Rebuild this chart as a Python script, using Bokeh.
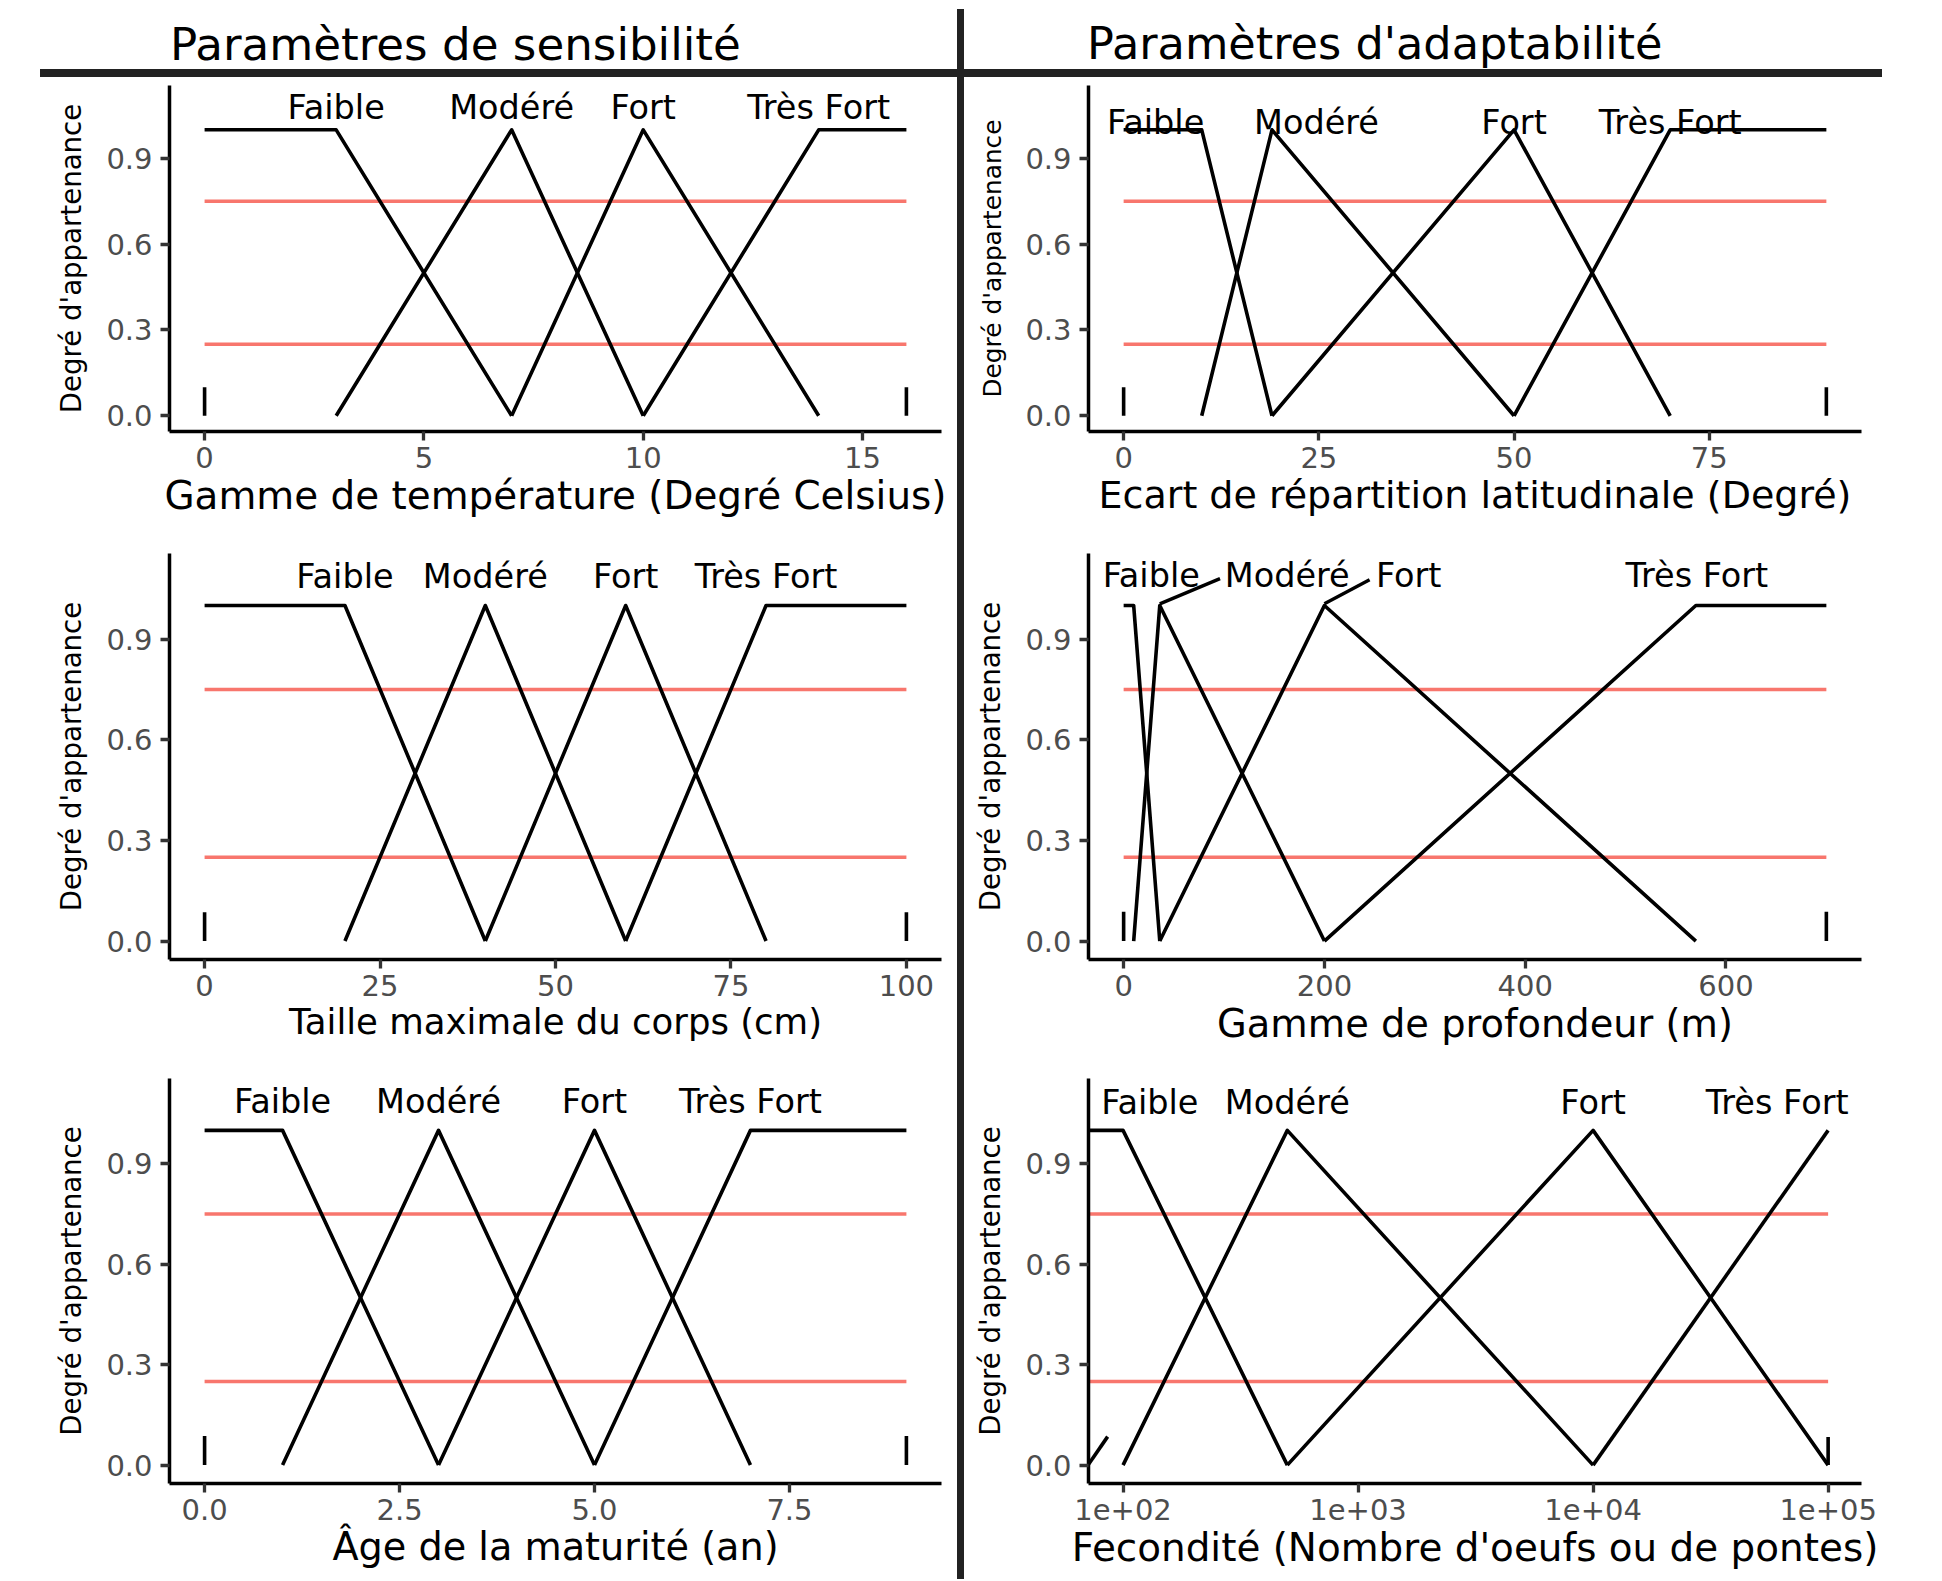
from bokeh.plotting import figure
from bokeh.layouts import row, column
from bokeh.models import (Range1d, FixedTicker, PrintfTickFormatter, BasicTickFormatter,
                          CustomJSTickFormatter, Div)
from bokeh.core.properties import value
from bokeh.embed import file_html
from bokeh.resources import INLINE

FONT = "DejaVu Sans"

# ---------------- data ----------------
CLASSES = ["Faible", "Modéré", "Fort", "Très Fort"]
SHAPE_Y = [[1, 1, 0], [0, 1, 0], [0, 1, 0], [0, 1, 1]]
THRESHOLDS = [0.25, 0.75]
Y_TICKS = [0.0, 0.3, 0.6, 0.9]
Y_LABEL = "Degré d'appartenance"

# Gamme de température
temp_x = [[0, 3, 7], [3, 7, 10], [7, 10, 14], [10, 14, 16]]
temp_bounds = [0, 16]
temp_ticks = [0, 5, 10, 15]
temp_lab_x = [3, 7, 10, 14]
temp_lab_y = [1.077, 1.077, 1.077, 1.077]
temp_bound_h = [0.1, 0.1]

# Ecart de répartition latitudinale
lat_x = [[0, 10, 19], [10, 19, 50], [19, 50, 70], [50, 70, 90]]
lat_bounds = [0, 90]
lat_ticks = [0, 25, 50, 75]
lat_lab_x = [4.1, 24.7, 50, 70]
lat_lab_y = [1.027, 1.027, 1.027, 1.027]
lat_bound_h = [0.1, 0.1]

# Taille maximale du corps
size_x = [[0, 20, 40], [20, 40, 60], [40, 60, 80], [60, 80, 100]]
size_bounds = [0, 100]
size_ticks = [0, 25, 50, 75, 100]
size_lab_x = [20, 40, 60, 80]
size_lab_y = [1.086, 1.086, 1.086, 1.086]
size_bound_h = [0.086, 0.086]

# Gamme de profondeur
depth_x = [[0, 10, 36], [10, 36, 200], [36, 200, 570], [200, 570, 700]]
depth_bounds = [0, 700]
depth_ticks = [0, 200, 400, 600]
depth_lab_x = [27.5, 163, 284, 571]
depth_lab_y = [1.09, 1.09, 1.09, 1.09]
depth_bound_h = [0.087, 0.087]
depth_leader_x0 = [36, 200]
depth_leader_y0 = [1.005, 1.005]
depth_leader_x1 = [96, 245]
depth_leader_y1 = [1.08, 1.077]

# Âge de la maturité
age_x = [[0, 1, 3], [1, 3, 5], [3, 5, 7], [5, 7, 9]]
age_bounds = [0, 9]
age_ticks = [0, 2.5, 5, 7.5]
age_lab_x = [1, 3, 5, 7]
age_lab_y = [1.087, 1.087, 1.087, 1.087]
age_bound_h = [0.087, 0.087]

# Fecondité (log scale); 71 = where the zero end is drawn at the panel edge
fec_edge = 71
fec_x = [[fec_edge, 100, 500], [100, 500, 10000], [500, 10000, 100000], [10000, 100000]]
fec_y = [[1, 1, 0], [0, 1, 0], [0, 1, 0], [0, 1]]
fec_bounds = [fec_edge, 100000]
fec_ticks = [100, 1000, 10000, 100000]
fec_lab_x = [130, 500, 10000, 60700]
fec_lab_y = [1.084, 1.084, 1.084, 1.084]
fec_mark_x0 = [fec_edge, 100000]
fec_mark_x1 = [86, 100000]
fec_mark_y1 = [0.085, 0.084]

# ---------------- helpers ----------------
LEFT_W, SEP_W, RIGHT_W = 957, 7, 970
ROW_FRAMES = [346, 406, 405]
ROW_TOP = [5, 26, 23]
ROW_BOTTOM = [96, 96, 96]
TITLE_H = 80


def style_axes(p, x_ticks, x_fmt, xlabel, xlabel_size, ylabel_size):
    xa = p.xaxis[0]
    ya = p.yaxis[0]
    xa.ticker = FixedTicker(ticks=x_ticks)
    xa.formatter = x_fmt
    ya.ticker = FixedTicker(ticks=Y_TICKS)
    ya.formatter = PrintfTickFormatter(format="%.1f")
    xa.axis_label = xlabel
    ya.axis_label = Y_LABEL
    for ax, lsize in ((xa, xlabel_size), (ya, ylabel_size)):
        ax.axis_label_text_font = FONT
        ax.axis_label_text_font_style = "normal"
        ax.axis_label_text_font_size = f"{lsize}px"
        ax.axis_label_text_color = "black"
        ax.major_label_text_font = FONT
        ax.major_label_text_font_size = "29px"
        ax.major_label_text_color = "#4D4D4D"
        ax.axis_line_color = "black"
        ax.axis_line_width = 3.5
        ax.major_tick_line_color = "#333333"
        ax.major_tick_line_width = 3.3
        ax.major_tick_out = 9
        ax.major_tick_in = 0
        ax.minor_tick_line_color = None
    xa.major_label_standoff = 6
    xa.axis_label_standoff = 2
    ya.major_label_standoff = 8
    ya.axis_label_standoff = 15


def make_panel(rowi, col, xs, ys, bounds, x_ticks, x_fmt, lab_x, lab_y, xlabel,
               xlabel_size, ylabel_size, mark_x0, mark_x1, mark_y1, log=False):
    if col == 0:
        bl, fw = 169, 772
        br = LEFT_W - bl - fw
    else:
        bl, fw = 124, 773
        br = RIGHT_W - bl - fw
    b0, b1 = bounds
    if log:
        l0, l1 = 2.0, 5.0
        d = 0.05 * (l1 - l0)
        xr = Range1d(10 ** (l0 - d + 0.003), 10 ** (l1 + d - 0.008))
    else:
        d = 0.05 * (b1 - b0)
        xr = Range1d(b0 - d, b1 + d)
    p = figure(frame_width=fw, frame_height=ROW_FRAMES[rowi], x_range=xr,
               y_range=Range1d(-0.055, 1.155),
               x_axis_type="log" if log else "linear",
               output_backend="svg", toolbar_location=None, title_location=None,
               min_border_left=bl, min_border_right=br,
               min_border_top=ROW_TOP[rowi], min_border_bottom=ROW_BOTTOM[rowi],
               background_fill_color="white", border_fill_color="white",
               outline_line_color=None)
    p.grid.visible = False
    p.segment(x0=[b0, b0], x1=[b1, b1], y0=THRESHOLDS, y1=THRESHOLDS,
              line_color="#F8766D", line_width=3.5)
    for xv, yv in zip(xs, ys):
        p.line(xv, yv, line_color="black", line_width=3.6, line_join="round")
    p.segment(x0=mark_x0, x1=mark_x1, y0=[0, 0], y1=mark_y1,
              line_color="black", line_width=3.6)
    p.text(x=lab_x, y=lab_y, text=CLASSES, text_font=value(FONT),
           text_font_size="33.5px", text_align="center", text_baseline="middle",
           text_color="black")
    style_axes(p, x_ticks, x_fmt, xlabel, xlabel_size, ylabel_size)
    return p


p1 = make_panel(0, 0, temp_x, SHAPE_Y, temp_bounds, temp_ticks, BasicTickFormatter(),
                temp_lab_x, temp_lab_y, "Gamme de température (Degré Celsius)", 38.9, 27.6,
                temp_bounds, temp_bounds, temp_bound_h)
p2 = make_panel(0, 1, lat_x, SHAPE_Y, lat_bounds, lat_ticks, BasicTickFormatter(),
                lat_lab_x, lat_lab_y, "Ecart de répartition latitudinale (Degré)", 38.0, 24.8,
                lat_bounds, lat_bounds, lat_bound_h)
p3 = make_panel(1, 0, size_x, SHAPE_Y, size_bounds, size_ticks, BasicTickFormatter(),
                size_lab_x, size_lab_y, "Taille maximale du corps (cm)", 35.5, 27.6,
                size_bounds, size_bounds, size_bound_h)
p4 = make_panel(1, 1, depth_x, SHAPE_Y, depth_bounds, depth_ticks, BasicTickFormatter(),
                depth_lab_x, depth_lab_y, "Gamme de profondeur (m)", 38.4, 27.6,
                depth_bounds, depth_bounds, depth_bound_h)
p4.segment(x0=depth_leader_x0, y0=depth_leader_y0, x1=depth_leader_x1, y1=depth_leader_y1,
           line_color="black", line_width=3.4)
p5 = make_panel(2, 0, age_x, SHAPE_Y, age_bounds, age_ticks, PrintfTickFormatter(format="%.1f"),
                age_lab_x, age_lab_y, "Âge de la maturité (an)", 38.2, 27.6,
                age_bounds, age_bounds, age_bound_h)
fec_fmt = CustomJSTickFormatter(code="""
const e = Math.round(Math.log10(tick));
return "1e+" + (e < 10 ? "0" + e : "" + e);
""")
p6 = make_panel(2, 1, fec_x, fec_y, fec_bounds, fec_ticks, fec_fmt,
                fec_lab_x, fec_lab_y, "Fecondité (Nombre d'oeufs ou de pontes)", 38.9, 27.6,
                fec_mark_x0, fec_mark_x1, fec_mark_y1, log=True)

# ---------------- titles & separators ----------------


def title_div(text, width, text_left, size, line_left, line_width):
    html = (
        f'<div style="position:relative;width:{width}px;height:{TITLE_H}px;">'
        f'<div style="position:absolute;left:{text_left}px;top:22px;font-family:\'{FONT}\';'
        f'font-size:{size}px;line-height:1;white-space:nowrap;color:#000;">{text}</div>'
        f'<div style="position:absolute;left:{line_left}px;top:69px;width:{line_width}px;'
        f'height:7.5px;background:#222222;"></div>'
        '</div>'
    )
    return Div(text=html, width=width, height=TITLE_H, margin=(0, 0, 0, 0))


tl = title_div("Paramètres de sensibilité", LEFT_W, 170, 45.2, 40, LEFT_W - 40)
tr = title_div("Paramètres d'adaptabilité", RIGHT_W, 123, 44.6, 0, 918)

TOTAL_H = TITLE_H + sum(ROW_TOP) + sum(ROW_FRAMES) + sum(ROW_BOTTOM)
sep = Div(text=(f'<div style="position:relative;width:{SEP_W}px;height:{TOTAL_H}px;">'
                f'<div style="position:absolute;left:0;top:9px;width:{SEP_W}px;'
                f'height:{TOTAL_H - 9}px;background:#222222;"></div></div>'),
          width=SEP_W, height=TOTAL_H, margin=(0, 0, 0, 0))

layout = row(column(tl, p1, p3, p5), sep, column(tr, p2, p4, p6))

open("out.html", "w").write(file_html(layout, INLINE, title="Fonctions d'appartenance"))
